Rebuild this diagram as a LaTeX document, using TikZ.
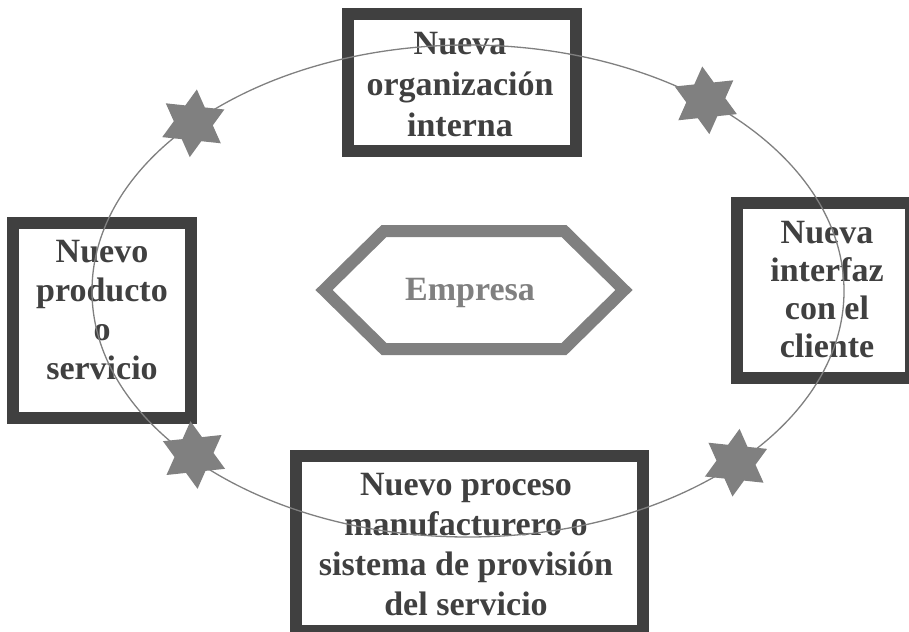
\documentclass[tikz,border=0pt]{standalone}
\usepackage{fontspec}
\setmainfont{Liberation Serif}
\definecolor{darkline}{RGB}{64,64,64}
\definecolor{midgray}{RGB}{128,128,128}
\begin{document}
\begin{tikzpicture}[x=1pt,y=-1pt,
  framebox/.style={draw=darkline,line width=12pt,inner sep=0pt,outer sep=0pt},
  boxtext/.style={font=\fontsize{34}{#1}\selectfont\bfseries,text=darkline,align=center,inner sep=0pt},
  boxtext/.default=41,
  hexline/.style={draw=midgray,line width=12pt,line join=miter},
  orbit/.style={draw=midgray,line width=1.3pt},
  hexstar/.pic={\fill[midgray] (0:34) -- (30:19.6) -- (60:34) -- (90:19.6) -- (120:34) -- (150:19.6)
     -- (180:34) -- (210:19.6) -- (240:34) -- (270:19.6) -- (300:34) -- (330:19.6) -- cycle;}]
\fill[white] (0,0) rectangle (909,631);
\useasboundingbox (0,0) rectangle (909,631);
% boxes
\node[framebox,minimum width=228pt,minimum height=137pt] (topbox) at (462,82.5) {};
\node[boxtext=41] (toptext) at (460,84.8) {Nueva\\organización\\interna};
\node[framebox,minimum width=178pt,minimum height=195pt] (leftbox) at (101.5,320) {};
\node[boxtext=39] (lefttext) at (102,310.3) {Nuevo\\producto\\o\\servicio};
\node[framebox,minimum width=174pt,minimum height=175.5pt] (rightbox) at (823.5,290.25) {};
\node[boxtext=38] (righttext) at (827,289.1) {Nueva\\interfaz\\con el\\cliente};
\node[framebox,minimum width=346.5pt,minimum height=175pt] (bottombox) at (469.25,543.5) {};
\node[boxtext=40] (bottomtext) at (466,544.1) {Nuevo proceso\\manufacturero o\\sistema de provisión\\del servicio};
% hexagon
\draw[hexline] (324,290) -- (384,231) -- (564,231) -- (624,290) -- (564,349) -- (384,349) -- cycle;
\node[font=\fontsize{34}{41}\selectfont\bfseries,text=midgray,inner sep=0pt,anchor=base] (empresa) at (470,300) {Empresa};
% ellipse
\draw[orbit] (468,291) ellipse [x radius=376, y radius=246];
% stars
\pic[rotate=24] (star1) at (193.3,123.3) {hexstar};
\pic[rotate=36] (star2) at (705.8,100.3) {hexstar};
\pic[rotate=24] (star3) at (736,462.7) {hexstar};
\pic[rotate=36] (star4) at (194,455) {hexstar};
\end{tikzpicture}
\end{document}
